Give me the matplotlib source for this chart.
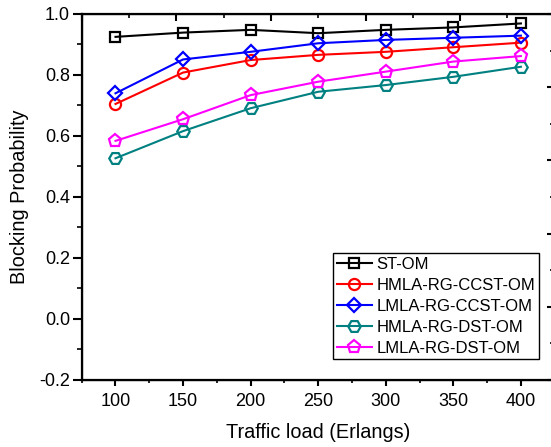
import matplotlib.pyplot as plt
from matplotlib.ticker import MultipleLocator

plt.rcParams['font.family'] = ['Liberation Sans', 'DejaVu Sans']
plt.rcParams['axes.unicode_minus'] = False

# traffic load (Erlangs)
load = [100, 150, 200, 250, 300, 350, 400]

# blocking probability
st_om = [0.925, 0.939, 0.948, 0.937, 0.948, 0.956, 0.969]
hmla_ccst = [0.705, 0.808, 0.849, 0.866, 0.876, 0.891, 0.906]
lmla_ccst = [0.740, 0.851, 0.876, 0.904, 0.915, 0.922, 0.929]
hmla_dst = [0.527, 0.616, 0.691, 0.745, 0.767, 0.794, 0.827]
lmla_dst = [0.584, 0.655, 0.734, 0.778, 0.811, 0.844, 0.862]

labels = ["ST-OM", "HMLA-RG-CCST-OM", "LMLA-RG-CCST-OM",
          "HMLA-RG-DST-OM", "LMLA-RG-DST-OM"]

fig = plt.figure(figsize=(5.51, 4.47), dpi=100)
ax = fig.add_axes([0.1483, 0.1499, 0.8584, 0.8188])

ax.plot(load, st_om, color='black', marker='s', ms=7, mfc='none', mew=1.6, lw=1.5, label=labels[0])
ax.plot(load, hmla_ccst, color='red', marker='o', ms=8, mfc='none', mew=1.6, lw=1.5, label=labels[1])
ax.plot(load, lmla_ccst, color='blue', marker='D', ms=7.5, mfc='none', mew=1.6, lw=1.5, label=labels[2])
ax.plot(load, hmla_dst, color='#008080', marker='H', ms=9, mfc='none', mew=1.6, lw=1.5, label=labels[3])
ax.plot(load, lmla_dst, color='#ff00ff', marker='p', ms=9.5, mfc='none', mew=1.6, lw=1.5, label=labels[4])

ax.set_xlim(75, 425)
ax.set_ylim(-0.2, 1.0)
ax.xaxis.set_major_locator(MultipleLocator(50))
ax.xaxis.set_minor_locator(MultipleLocator(25))
ax.yaxis.set_major_locator(MultipleLocator(0.2))
ax.yaxis.set_minor_locator(MultipleLocator(0.1))
ax.tick_params(which='major', direction='out', length=4.5, width=1.5, labelsize=13, pad=5)
ax.tick_params(which='minor', direction='out', length=2.5, width=1.2)
ax.tick_params(axis='y', which='major', length=6.5, pad=2)
ax.tick_params(axis='y', which='minor', length=3.5)
ax.tick_params(top=False, right=False, which='both')
for s in ax.spines.values():
    s.set_linewidth(1.6)

ax.set_xlabel("Traffic load (Erlangs)", fontsize=14.3, labelpad=9)
ax.set_ylabel("Blocking Probability", fontsize=14.3, labelpad=7)

# origin-style extra axes on top and right (no labels)
axt = ax.twiny()
axt.set_xlim(0, 5)
axt.xaxis.set_major_locator(MultipleLocator(1))
axt.xaxis.set_minor_locator(MultipleLocator(0.5))
axt.tick_params(axis='x', which='major', direction='in', length=5, width=1.5, labeltop=False)
axt.tick_params(axis='x', which='minor', direction='in', length=3, width=1.2)

axr = ax.twinx()
axr.set_ylim(0, 5)
axr.yaxis.set_major_locator(MultipleLocator(1))
axr.yaxis.set_minor_locator(MultipleLocator(0.5))
axr.tick_params(axis='y', which='major', direction='in', length=6, width=1.5, labelright=False)
axr.tick_params(axis='y', which='minor', direction='in', length=3.8, width=1.2)

leg = ax.legend(loc='lower right', bbox_to_anchor=(0.966, 0.057), borderaxespad=0,
                fontsize=12, frameon=True, fancybox=False, framealpha=1,
                edgecolor='black', handlelength=2.1, handletextpad=0.3,
                labelspacing=0.36, borderpad=0.2, numpoints=1)
leg.get_frame().set_linewidth(1.0)

fig.savefig("out.png", dpi=100)
